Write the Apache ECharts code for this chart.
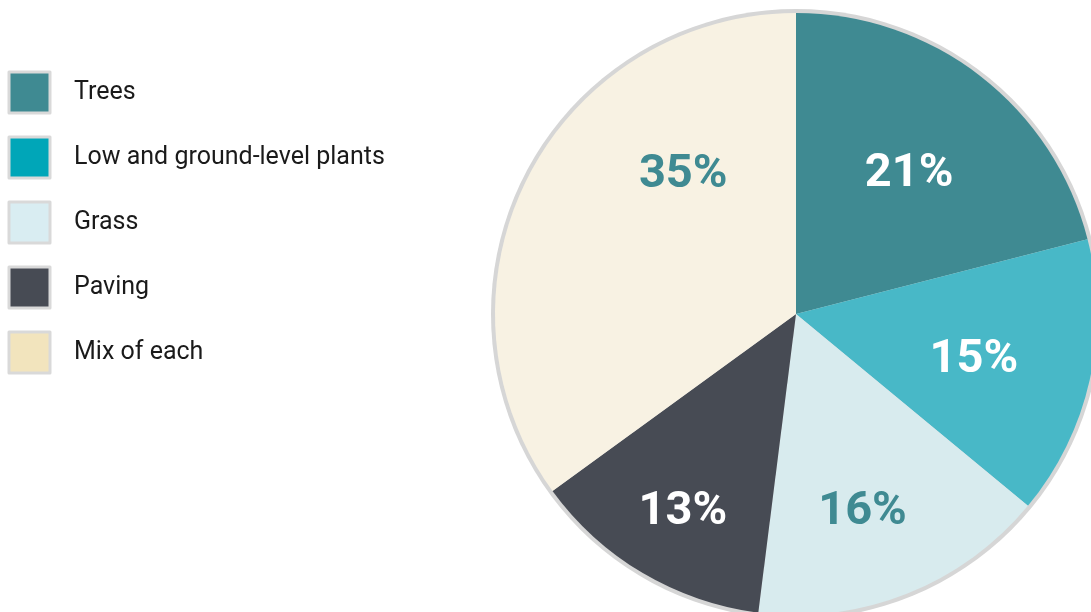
<!DOCTYPE html>
<html>
<head>
<meta charset="utf-8">
<script src="https://cdn.jsdelivr.net/npm/echarts@6/dist/echarts.min.js"></script>
<style>
html,body{margin:0;padding:0;background:#fff;}
#chart{width:1091px;height:612px;}
</style>
</head>
<body>
<div id="chart"></div>
<script>
// Data
const categories = ['Trees', 'Low and ground-level plants', 'Grass', 'Paving', 'Mix of each'];
const shares = [21, 15, 16, 13, 35];

// Styling
const sliceColors = ['#3f8a92', '#48b8c7', '#d8ebee', '#474b54', '#f8f2e3'];
const legendColors = ['#3f8a92', '#00a6b8', '#d9edf2', '#474b54', '#f2e4bd'];
const labelColors = ['#ffffff', '#ffffff', '#3f8a92', '#ffffff', '#3f8a92'];
const labelNudge = [[19, -18], [28, 13], [10, 56], [-35, 66], [24, -69]];

const chart = echarts.init(document.getElementById('chart'), null, {renderer: 'canvas'});

const option = {
  animation: false,
  backgroundColor: '#ffffff',
  legend: {
    orient: 'vertical',
    left: 7.5,
    top: 70.5,
    padding: 0,
    itemWidth: 41,
    itemHeight: 41,
    itemGap: 21,
    icon: 'rect',
    selectedMode: false,
    itemStyle: {borderColor: '#d9d9d9', borderWidth: 3},
    textStyle: {fontFamily: 'Roboto', fontSize: 25, color: '#1a1a1a', padding: [0, 0, 0, 19]},
    data: categories.map((c, i) => ({name: c, itemStyle: {color: legendColors[i]}}))
  },
  series: [
    {
      type: 'pie',
      silent: true,
      center: [796, 314],
      radius: 305,
      z: 1,
      label: {show: false},
      labelLine: {show: false},
      itemStyle: {color: '#d6d6d6'},
      data: [{name: '__ring', value: 1}]
    },
    {
      type: 'pie',
      center: [796, 314],
      radius: 301,
      startAngle: 90,
      clockwise: true,
      z: 2,
      silent: true,
      label: {
        show: true,
        position: 'inside',
        formatter: '{c}%',
        fontFamily: 'Roboto',
        fontWeight: 'bold',
        fontSize: 47
      },
      labelLine: {show: false},
      labelLayout: function (p) {
        const n = labelNudge[p.dataIndex];
        return {dx: n[0], dy: n[1]};
      },
      data: categories.map((c, i) => ({
        name: c,
        value: shares[i],
        itemStyle: {color: sliceColors[i]},
        label: {color: labelColors[i]}
      }))
    }
  ]
};
chart.setOption(option);
</script>
</body>
</html>
